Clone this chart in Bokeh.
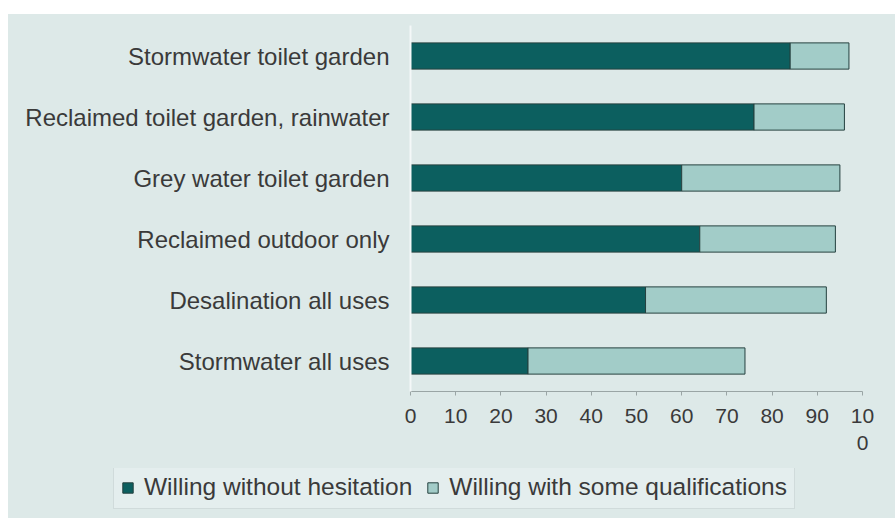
from bokeh.plotting import figure
from bokeh.layouts import column
from bokeh.models import Legend, LegendItem, FactorRange, FixedTicker, ColumnDataSource
from bokeh.embed import file_html
from bokeh.resources import INLINE

categories = [
    "Stormwater toilet garden",
    "Reclaimed toilet garden, rainwater",
    "Grey water toilet garden",
    "Reclaimed outdoor only",
    "Desalination all uses",
    "Stormwater all uses",
]
series_names = ["Willing without hesitation", "Willing with some qualifications"]
without_hesitation = [84, 76, 60, 64, 52, 26]
with_qualifications = [13, 20, 35, 30, 40, 48]
x_ticks = [0, 10, 20, 30, 40, 50, 60, 70, 80, 90, 100]

BG = "#dde9e8"
DARK = "#0c5f5f"
LIGHT = "#a2ccc8"
EDGE = "#24403f"
TEXT = "#3a3a3a"
FONT = "Liberation Sans"

source = ColumnDataSource(dict(
    cat=categories,
    a=without_hesitation,
    b=with_qualifications,
))

p = figure(
    width=887, height=454,
    y_range=FactorRange(*reversed(categories)),
    x_range=(0, 100),
    output_backend="svg", toolbar_location=None,
    min_border_left=402, min_border_right=33,
    min_border_top=11, min_border_bottom=77,
    background_fill_color=BG, border_fill_color=BG,
)
p.frame_align = False
p.outline_line_color = None
p.xgrid.grid_line_color = None
p.ygrid.grid_line_color = None

rs = p.hbar_stack(["a", "b"], y="cat", height=0.43, source=source,
                  fill_color=[DARK, LIGHT], line_color=EDGE, line_width=1)

p.xaxis.ticker = FixedTicker(ticks=x_ticks)
p.xaxis.major_label_overrides = {100: "10\n0"}
p.xaxis.axis_line_color = "#9aa5a5"
p.xaxis.major_tick_line_color = "#9aa5a5"
p.xaxis.major_tick_out = 4
p.xaxis.major_tick_in = 0
p.xaxis.minor_tick_line_color = None
p.xaxis.major_label_text_font = FONT
p.xaxis.major_label_text_font_size = "21px"
p.xaxis.major_label_text_color = TEXT
p.xaxis.major_label_standoff = 8

p.yaxis.axis_line_color = "#f4f8f8"
p.yaxis.axis_line_width = 2
p.yaxis.major_tick_line_color = None
p.yaxis.minor_tick_line_color = None
p.yaxis.major_label_text_font = FONT
p.yaxis.major_label_text_font_size = "24px"
p.yaxis.major_label_text_color = TEXT
p.yaxis.major_label_standoff = 15

# legend strip (swatches come from off-screen marks so the legend has glyphs)
lf = figure(
    width=887, height=50, x_range=(0, 1), y_range=(0, 1),
    x_axis_type=None, y_axis_type=None,
    output_backend="svg", toolbar_location=None,
    min_border=0,
    background_fill_color=BG, border_fill_color=BG,
)
lf.frame_align = False
lf.outline_line_color = None
lf.xgrid.grid_line_color = None
lf.ygrid.grid_line_color = None
lr1 = lf.rect(x=[-5], y=[-5], width=1, height=1, fill_color=DARK, line_color=EDGE)
lr2 = lf.rect(x=[-5], y=[-5], width=1, height=1, fill_color=LIGHT, line_color=EDGE)

legend = Legend(
    items=[LegendItem(label=series_names[0], renderers=[lr1]),
           LegendItem(label=series_names[1], renderers=[lr2])],
    orientation="horizontal",
    location=(105, 9),
    label_text_font=FONT,
    label_text_font_size="24.5px",
    label_text_color=TEXT,
    glyph_width=13, glyph_height=13,
    label_standoff=10, spacing=14, padding=7, margin=0,
    border_line_color="#bcc8c8",
    background_fill_color="#e4eeee", background_fill_alpha=1,
)
lf.add_layout(legend, "center")

layout = column(p, lf, spacing=0)
layout.margin = (14, 0, 0, 8)
layout.styles = {"background-color": BG}

open("out.html", "w").write(file_html(layout, INLINE))
